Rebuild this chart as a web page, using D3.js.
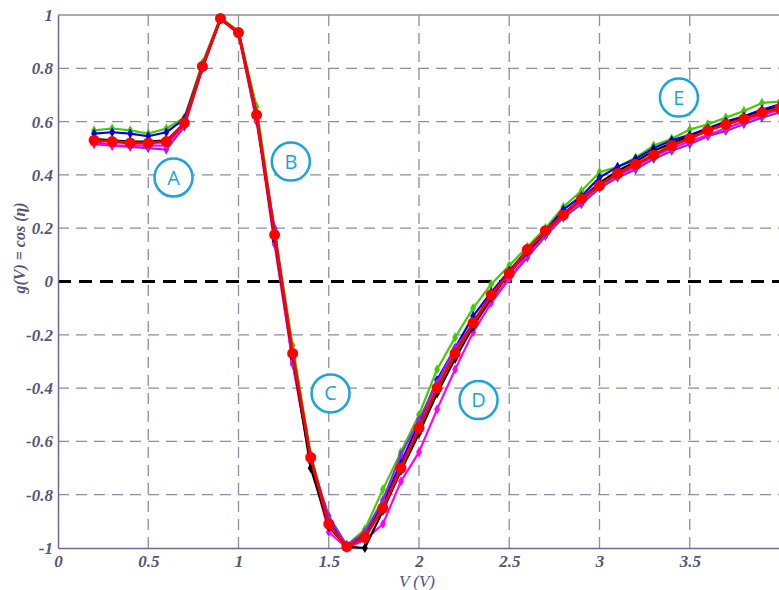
<!DOCTYPE html>
<html><head><meta charset="utf-8">
<script src="https://cdn.jsdelivr.net/npm/d3@7"></script>
<style>body{margin:0;background:#fff}svg{display:block}</style>
</head><body>
<svg id="c" width="779" height="590"></svg>
<script>
const xs = [0.2,0.3,0.4,0.5,0.6,0.7,0.8,0.9,1.0,1.1,1.2,1.3,1.4,1.5,1.6,1.7,1.8,1.9,2.0,2.1,2.2,2.3,2.4,2.5,2.6,2.7,2.8,2.9,3.0,3.1,3.2,3.3,3.4,3.5,3.6,3.7,3.8,3.9,4.0];
const green = [0.567,0.574,0.567,0.555,0.574,0.615,0.82,0.99,0.94,0.657,0.19,-0.24,-0.65,-0.90,-0.99,-0.93,-0.78,-0.64,-0.50,-0.33,-0.21,-0.10,-0.01,0.06,0.13,0.20,0.28,0.34,0.41,0.43,0.465,0.51,0.536,0.57,0.59,0.615,0.64,0.67,0.675];
const blue = [0.555,0.56,0.555,0.545,0.56,0.61,0.81,0.985,0.935,0.63,0.15,-0.29,-0.67,-0.90,-0.99,-0.95,-0.83,-0.68,-0.53,-0.37,-0.25,-0.13,-0.04,0.04,0.12,0.19,0.27,0.32,0.39,0.43,0.46,0.50,0.53,0.55,0.575,0.60,0.62,0.645,0.665];
const purple = [0.525,0.51,0.505,0.5,0.495,0.58,0.80,0.985,0.93,0.60,0.20,-0.31,-0.67,-0.88,-0.99,-0.94,-0.82,-0.65,-0.52,-0.38,-0.25,-0.16,-0.07,0.01,0.09,0.17,0.24,0.29,0.35,0.39,0.42,0.46,0.49,0.515,0.545,0.565,0.59,0.615,0.635];
const magenta = [0.515,0.51,0.51,0.51,0.51,0.585,0.80,0.985,0.93,0.61,0.14,-0.30,-0.68,-0.94,-1.0,-0.97,-0.91,-0.75,-0.64,-0.48,-0.33,-0.19,-0.08,0.01,0.10,0.18,0.25,0.30,0.36,0.40,0.43,0.47,0.50,0.525,0.55,0.575,0.60,0.625,0.645];
const black = [0.535,0.53,0.525,0.525,0.53,0.59,0.805,0.985,0.935,0.62,0.16,-0.28,-0.70,-0.92,-0.995,-1.0,-0.86,-0.71,-0.57,-0.42,-0.29,-0.17,-0.06,0.03,0.11,0.185,0.255,0.31,0.37,0.415,0.45,0.49,0.52,0.545,0.57,0.595,0.615,0.64,0.655];
const red = [0.53,0.525,0.52,0.52,0.525,0.595,0.807,0.987,0.934,0.625,0.175,-0.27,-0.66,-0.91,-0.995,-0.96,-0.85,-0.70,-0.55,-0.40,-0.27,-0.155,-0.05,0.03,0.12,0.19,0.25,0.31,0.36,0.405,0.44,0.475,0.51,0.537,0.567,0.59,0.61,0.634,0.65];
const seriesNames = ["green","blue","purple","magenta","black","red"];
const seriesColors = ["#44cc00","#0000ee","#8a2be2","#ff00ff","#000000","#ff0000"];
const seriesData = [green,blue,purple,magenta,black,red];
const xTicks = [0,0.5,1,1.5,2,2.5,3,3.5];
const xTickLabels = ["0","0.5","1","1.5","2","2.5","3","3.5"];
const yTicks = [-1,-0.8,-0.6,-0.4,-0.2,0,0.2,0.4,0.6,0.8,1];
const yTickLabels = ["-1","-0.8","-0.6","-0.4","-0.2","0","0.2","0.4","0.6","0.8","1"];
const labels = ["A","B","C","D","E"];
const labelX = [0.64,1.29,1.51,2.33,3.44];
const labelY = [0.39,0.45,-0.42,-0.445,0.69];

const svg = d3.select("#c");
const L=58, R=780, T=15, B=548;
const x = d3.scaleLinear().domain([0,4]).range([L,R]);
const y = d3.scaleLinear().domain([-1,1]).range([B,T]);
const gridC = "#8e8aa8", axC="#6e6a8e", tickC="#55557a";

// grid
svg.append("g").selectAll("line").data(xTicks.filter(d=>d>0)).join("line")
  .attr("x1",d=>x(d)).attr("x2",d=>x(d)).attr("y1",T).attr("y2",B)
  .attr("stroke",gridC).attr("stroke-width",1.3).attr("stroke-dasharray","11,7");
svg.append("g").selectAll("line").data(yTicks.filter(d=>d>-1&&d<1&&d!==0)).join("line")
  .attr("x1",L).attr("x2",R).attr("y1",d=>y(d)).attr("y2",d=>y(d))
  .attr("stroke",gridC).attr("stroke-width",1.3).attr("stroke-dasharray","11,7");
// top border
svg.append("line").attr("x1",L).attr("x2",R).attr("y1",y(1)).attr("y2",y(1)).attr("stroke",gridC).attr("stroke-width",1.3);
// zero line
svg.append("line").attr("x1",L).attr("x2",R).attr("y1",y(0)).attr("y2",y(0))
  .attr("stroke","#000").attr("stroke-width",3).attr("stroke-dasharray","13,8");

// axes
const xAxis = d3.axisBottom(x).tickValues(xTicks).tickFormat((d,i)=>xTickLabels[i]).tickSize(0).tickPadding(7);
const yAxis = d3.axisLeft(y).tickValues(yTicks).tickFormat((d,i)=>yTickLabels[i]).tickSize(0).tickPadding(5);
const gx = svg.append("g").attr("transform",`translate(0,${B})`).call(xAxis);
const gy = svg.append("g").attr("transform",`translate(${L},0)`).call(yAxis);
[gx,gy].forEach(g=>{
  g.select(".domain").attr("stroke",axC).attr("stroke-width",1.5);
  g.selectAll("text").attr("fill",tickC).attr("font-family","Liberation Serif, serif")
   .attr("font-style","italic").attr("font-weight","bold").attr("font-size",17);
});

// series
const line = d3.line().x((d,i)=>x(xs[i])).y(d=>y(d));
seriesData.forEach((s,k)=>{
  const isRed = seriesNames[k]==="red";
  const g = svg.append("g");
  g.append("path").datum(s).attr("d",line).attr("fill","none")
    .attr("stroke",seriesColors[k]).attr("stroke-width",isRed?3:2.2).attr("stroke-linejoin","round");
  if(isRed){
    g.selectAll("circle").data(s).join("circle").attr("cx",(d,i)=>x(xs[i])).attr("cy",d=>y(d))
      .attr("r",5.5).attr("fill",seriesColors[k]);
  } else {
    const sym = d3.symbol().type(d3.symbolDiamond).size(30);
    g.selectAll("path.m").data(s).join("path").attr("class","m")
      .attr("transform",(d,i)=>`translate(${x(xs[i])},${y(d)})`).attr("d",sym).attr("fill",seriesColors[k]);
  }
});

// circled labels
const lg = svg.append("g");
labels.forEach((t,i)=>{
  lg.append("circle").attr("cx",x(labelX[i])).attr("cy",y(labelY[i])).attr("r",19)
    .attr("fill","#fff").attr("stroke","#1ba3e0").attr("stroke-width",2.5);
  lg.append("text").attr("x",x(labelX[i])).attr("y",y(labelY[i])+7).attr("text-anchor","middle")
    .attr("font-family","Open Sans, Liberation Sans, sans-serif").attr("font-size",20).attr("fill","#1ba3e0").text(t);
});

// axis titles
svg.append("text").attr("x",417).attr("y",587).attr("text-anchor","middle")
  .attr("font-family","Liberation Serif, serif").attr("font-style","italic")
  .attr("font-size",17).attr("fill",tickC).text("V (V)");
svg.append("text").attr("transform","translate(25,248) rotate(-90)").attr("text-anchor","middle")
  .attr("font-family","Liberation Serif, serif").attr("font-style","italic").attr("font-weight","bold")
  .attr("font-size",16).attr("fill",tickC).text("g(V) = cos (η)");
</script>
</body></html>
